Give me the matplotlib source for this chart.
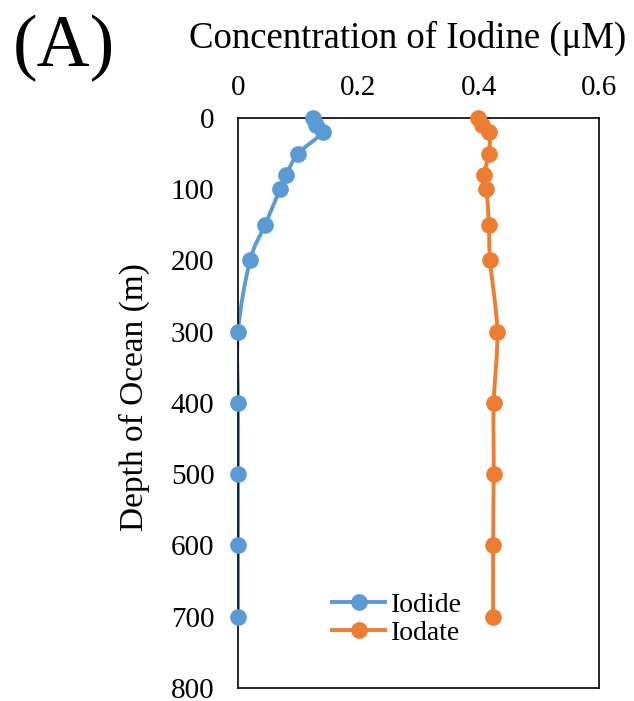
import numpy as np
import matplotlib.pyplot as plt
from matplotlib.path import Path
from matplotlib.patches import PathPatch
from matplotlib.lines import Line2D

plt.rcParams['font.family'] = ['Liberation Serif', 'DejaVu Serif']

# depth (m) and concentration (uM)
depth = [0, 10, 20, 50, 80, 100, 150, 200, 300, 400, 500, 600, 700]
iodide = [0.124, 0.130, 0.141, 0.100, 0.080, 0.070, 0.045, 0.020, 0.0, 0.0, 0.0, 0.0, 0.0]
iodate = [0.399, 0.405, 0.418, 0.417, 0.409, 0.413, 0.417, 0.419, 0.431, 0.425, 0.425, 0.424, 0.424]

blue = '#5B9BD5'
orange = '#ED7D31'


def smooth_path(x, y):
    # excel-like smoothed line as cubic bezier segments
    pts = np.column_stack([x, y]).astype(float)
    n = len(pts)
    verts = [pts[0]]
    codes = [Path.MOVETO]
    for i in range(n - 1):
        p0 = pts[i - 1] if i > 0 else pts[i]
        p1 = pts[i]
        p2 = pts[i + 1]
        p3 = pts[i + 2] if i + 2 < n else pts[i + 1]
        c1 = p1 + (p2 - p0) / 6
        c2 = p2 - (p3 - p1) / 6
        verts += [c1, c2, p2]
        codes += [Path.CURVE4] * 3
    return Path(verts, codes)


fig = plt.figure(figsize=(6.34, 7.01), dpi=100)
ax = fig.add_axes([0.3754, 0.0186, 0.5694, 0.8131])

for vals, col in [(iodide, blue), (iodate, orange)]:
    ax.add_patch(PathPatch(smooth_path(vals, depth), facecolor='none',
                           edgecolor=col, lw=2.8, zorder=2))
    ax.plot(vals, depth, 'o', color=col, ms=11, zorder=3, clip_on=False)

ax.set_xlim(0, 0.6)
ax.set_ylim(800, 0)
ax.set_xticks([0, 0.2, 0.4, 0.6])
ax.set_xticklabels(['0', '0.2', '0.4', '0.6'])
ax.set_yticks(range(0, 801, 100))
ax.xaxis.tick_top()
ax.xaxis.set_label_position('top')
ax.tick_params(axis='both', length=0, labelsize=21)
ax.tick_params(axis='x', pad=12)
ax.tick_params(axis='y', pad=17)
for s in ax.spines.values():
    s.set_linewidth(1.2)

ax.set_xlabel('Concentration of Iodine (μM)', fontsize=26.5)
ax.xaxis.set_label_coords(0.471, 1.123)
ax.set_ylabel('Depth of Ocean (m)', fontsize=24)
ax.yaxis.set_label_coords(-0.244, 0.51)

handles = [Line2D([], [], color=blue, lw=2.8, marker='o', ms=11),
           Line2D([], [], color=orange, lw=2.8, marker='o', ms=11)]
ax.legend(handles, ['Iodide', 'Iodate'], loc='lower center', bbox_to_anchor=(0.44, 0.05),
          frameon=False, fontsize=20, labelspacing=0.08, handlelength=1.9,
          handletextpad=0.2, borderpad=0)

fig.text(0.02, 0.979, '(A)', fontsize=53, va='top', ha='left')

fig.savefig('out.png', dpi=100)
